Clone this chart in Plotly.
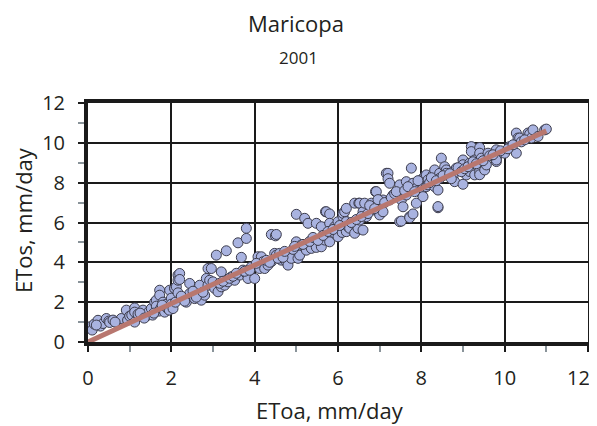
import plotly.graph_objects as go

etoa = [0.04, 0.10, 0.15, 0.24, 0.30, 0.36, 0.44, 0.50, 0.52, 0.60, 0.70, 0.80, 0.92, 0.95, 1.00,
        1.05, 1.12, 1.12, 1.12, 1.20, 1.32, 1.40, 1.45, 1.52, 1.55, 1.60, 1.64, 1.64, 1.70, 1.72,
        1.72, 1.75, 1.80, 1.84, 1.88, 1.90, 1.95, 1.96, 2.00, 2.00, 2.04, 2.08, 2.08, 2.10, 2.12,
        2.16, 2.16, 2.16, 2.20, 2.20, 2.28, 2.36, 2.44, 2.44, 2.56, 2.64, 2.68, 2.72, 2.80, 2.84,
        2.88, 2.88, 2.92, 2.96, 3.00, 3.04, 3.08, 3.12, 3.20, 3.20, 3.28, 3.32, 3.36, 3.44, 3.52,
        3.60, 3.64, 3.68, 3.72, 3.80, 3.80, 3.80, 3.84, 3.92, 4.00, 4.08, 4.08, 4.12, 4.16, 4.20,
        4.24, 4.32, 4.40, 4.40, 4.48, 4.50, 4.52, 4.52, 4.60, 4.64, 4.76, 4.80, 4.80, 4.88, 5.00,
        5.00, 5.04, 5.08, 5.12, 5.20, 5.24, 5.28, 5.28, 5.36, 5.48, 5.48, 5.60, 5.60, 5.68, 5.70,
        5.72, 5.80, 5.80, 5.80, 5.80, 5.92, 5.92, 6.00, 6.00, 6.08, 6.10, 6.12, 6.12, 6.16, 6.20,
        6.20, 6.20, 6.24, 6.28, 6.36, 6.40, 6.40, 6.48, 6.50, 6.52, 6.52, 6.60, 6.60, 6.64, 6.68,
        6.80, 6.84, 6.90, 6.92, 7.00, 7.00, 7.08, 7.08, 7.16, 7.20, 7.20, 7.24, 7.24, 7.32, 7.48,
        7.48, 7.52, 7.52, 7.56, 7.64, 7.64, 7.72, 7.72, 7.72, 7.76, 7.80, 7.80, 7.88, 7.88, 7.96,
        8.00, 8.04, 8.04, 8.04, 8.08, 8.12, 8.12, 8.16, 8.16, 8.28, 8.28, 8.32, 8.32, 8.40, 8.40,
        8.40, 8.44, 8.44, 8.48, 8.56, 8.60, 8.60, 8.76, 8.76, 8.80, 8.84, 8.92, 9.00, 9.00, 9.00,
        9.08, 9.16, 9.16, 9.20, 9.20, 9.28, 9.28, 9.40, 9.40, 9.40, 9.40, 9.44, 9.52, 9.56, 9.60,
        9.80, 9.80, 9.80, 9.80, 9.80, 10.00, 10.12, 10.16, 10.28, 10.28, 10.32, 10.36, 10.56, 10.60,
        10.64, 10.68, 10.80, 10.96, 11.00,
        0.20, 0.65, 1.25, 1.35, 1.58, 1.78, 2.24, 2.32, 2.52, 2.60, 2.76, 3.16, 3.24, 3.40, 3.48,
        3.56, 3.76, 3.88, 4.04, 4.28, 4.36, 4.56, 4.68, 4.72, 4.92, 4.96, 5.16, 5.32, 5.40, 5.52,
        5.64, 5.76, 5.88, 6.04, 6.32, 6.44, 6.56, 6.72, 6.76, 6.88, 6.96, 7.12, 7.28, 7.36, 7.40,
        7.60, 7.68, 7.84, 7.92, 8.20, 8.24, 8.36, 8.52, 8.68, 8.72, 8.88, 8.96, 9.04, 9.12, 9.24,
        9.32, 9.48, 9.64, 9.72, 9.90, 10.08, 10.20, 10.40, 10.48]
etos = [0.76, 0.60, 0.90, 1.09, 0.80, 0.93, 1.18, 1.05, 0.98, 1.10, 0.95, 1.18, 1.60, 1.10, 1.30,
        1.35, 1.71, 1.50, 1.00, 1.40, 1.60, 1.30, 1.50, 1.68, 1.35, 2.00, 2.10, 1.80, 1.55, 2.60,
        2.35, 1.70, 2.00, 1.50, 1.90, 1.70, 1.60, 2.60, 2.20, 1.90, 1.68, 2.70, 2.69, 2.00, 2.77,
        3.36, 3.10, 2.47, 3.44, 3.14, 2.23, 2.00, 2.43, 2.94, 2.18, 2.60, 2.85, 2.10, 2.35, 3.19,
        3.69, 2.85, 3.10, 3.69, 3.02, 2.69, 4.36, 2.52, 3.52, 2.77, 2.85, 4.58, 3.02, 3.27, 3.10,
        4.98, 3.36, 4.25, 3.61, 5.71, 5.20, 3.44, 3.19, 3.77, 3.19, 4.28, 3.86, 3.69, 4.28, 4.03,
        3.69, 3.86, 5.40, 4.03, 4.45, 5.33, 4.36, 5.40, 4.45, 4.11, 4.03, 4.36, 3.86, 4.20, 6.41,
        5.03, 4.20, 4.36, 4.87, 6.21, 4.61, 5.96, 4.95, 4.70, 5.96, 4.75, 5.79, 4.78, 5.12, 6.54,
        6.54, 6.43, 5.96, 5.28, 5.03, 5.79, 5.46, 6.04, 5.28, 5.62, 5.50, 6.29, 6.46, 6.54, 6.04,
        5.54, 6.71, 5.79, 5.71, 5.96, 6.97, 5.46, 5.71, 6.97, 6.12, 6.97, 6.54, 5.62, 6.97, 6.29,
        6.97, 6.63, 7.55, 7.55, 6.97, 6.38, 7.13, 6.54, 8.47, 8.47, 8.20, 7.97, 7.13, 7.38, 7.89,
        6.04, 7.13, 6.07, 6.79, 8.05, 7.38, 7.63, 6.29, 6.24, 8.73, 7.97, 6.43, 7.72, 6.97, 8.05,
        7.47, 8.22, 7.72, 7.30, 8.30, 7.80, 8.39, 8.14, 7.89, 8.39, 8.14, 8.64, 7.80, 7.63, 6.74,
        6.80, 8.47, 8.22, 9.23, 8.80, 8.64, 8.47, 8.56, 8.30, 8.05, 8.73, 8.64, 9.14, 8.90, 7.92,
        8.39, 8.98, 8.56, 9.81, 9.56, 9.14, 8.39, 9.76, 9.48, 8.56, 8.40, 9.23, 8.64, 8.89, 9.48,
        9.65, 9.23, 9.06, 9.31, 9.14, 9.48, 9.81, 9.81, 10.49, 9.48, 10.24, 10.24, 10.49, 10.44,
        10.24, 10.65, 10.32, 10.65, 10.69,
        0.85, 1.00, 1.45, 1.20, 1.45, 1.85, 2.30, 2.05, 2.55, 2.25, 2.50, 2.95, 3.05, 3.20, 3.30,
        3.45, 3.55, 3.60, 3.95, 4.10, 4.00, 4.20, 4.25, 4.55, 4.65, 4.80, 4.90, 5.05, 5.25, 5.10,
        5.35, 5.55, 5.65, 5.85, 6.00, 6.15, 6.30, 6.45, 6.85, 6.70, 7.15, 7.00, 7.25, 7.45, 7.55,
        7.60, 7.80, 7.55, 8.10, 8.00, 8.25, 8.10, 8.35, 8.45, 8.20, 8.75, 8.55, 8.70, 8.80, 9.05,
        8.95, 9.10, 9.35, 9.40, 9.60, 9.70, 9.90, 10.05, 10.15]

# Fitted line endpoints
line_x = [0.0, 11.0]
line_y = [0.0, 10.6]

x_ticks = [0, 2, 4, 6, 8, 10, 12]
y_ticks = [0, 2, 4, 6, 8, 10, 12]

font_family = "Open Sans, Noto Sans, sans-serif"
txt = "#231f20"

fig = go.Figure()
fig.add_trace(go.Scatter(
    x=etoa, y=etos, mode="markers",
    marker=dict(size=10, color="#a9b3e0", line=dict(color="#3c3c4c", width=1)),
    showlegend=False, cliponaxis=False))
fig.add_trace(go.Scatter(
    x=line_x, y=line_y, mode="lines",
    line=dict(color="#b8776f", width=5),
    showlegend=False, cliponaxis=False))

axis_common = dict(
    range=[0, 12], showgrid=True, gridcolor="#1a1a1a", gridwidth=2,
    showline=True, linecolor="#1a1a1a", linewidth=4, mirror=True,
    ticks="outside", ticklen=6, tickwidth=2, tickcolor="#1a1a1a",
    zeroline=False, automargin=False,
    tickfont=dict(family=font_family, size=20, color=txt),
    minor=dict(dtick=1, ticks="outside", ticklen=6, tickwidth=2,
               tickcolor="#8a949a", showgrid=False),
)

# last x tick label sits at the figure edge: draw it as an annotation nudged inward
x_ticktext = [str(v) for v in x_ticks[:-1]] + [""]

fig.update_layout(
    width=597, height=426,
    margin=dict(l=80, r=17, t=95, b=92),
    paper_bgcolor="white", plot_bgcolor="white",
    xaxis=dict(tickvals=x_ticks, ticktext=x_ticktext,
               ticklabelstandoff=9, **axis_common),
    yaxis=dict(tickvals=y_ticks, ticktext=[str(v) for v in y_ticks],
               ticklabelstandoff=9, **axis_common),
    annotations=[
        dict(text="Maricopa", x=0.416, y=1.335, xref="paper", yref="paper",
             xanchor="center", yanchor="middle",
             showarrow=False, font=dict(family=font_family, size=22, color=txt)),
        dict(text="2001", x=0.42, y=1.19, xref="paper", yref="paper",
             xanchor="center", yanchor="middle",
             showarrow=False, font=dict(family=font_family, size=17, color=txt)),
        dict(text=str(x_ticks[-1]), x=x_ticks[-1], y=-0.15, xref="x", yref="paper",
             xanchor="center", yanchor="middle", xshift=-10,
             showarrow=False, font=dict(family=font_family, size=20, color=txt)),
        dict(text="EToa, mm/day", x=0.484, y=-0.285, xref="paper", yref="paper",
             xanchor="center", yanchor="middle",
             showarrow=False, font=dict(family=font_family, size=22, color=txt)),
        dict(text="ETos, mm/day", x=-0.13, y=0.51, xref="paper", yref="paper",
             xanchor="center", yanchor="middle",
             showarrow=False, textangle=-90,
             font=dict(family=font_family, size=22, color=txt)),
    ],
)

fig.write_html("out.html")
